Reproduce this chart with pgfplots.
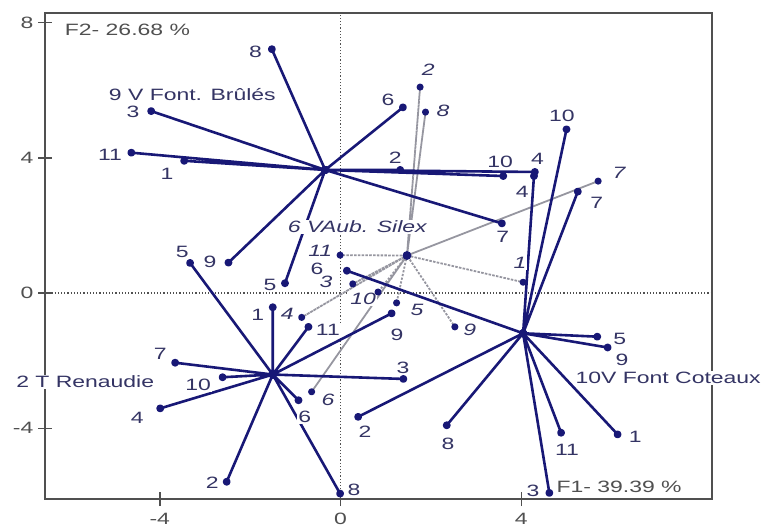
\documentclass[border=0pt]{standalone}
\usepackage{pgfplots}
\pgfplotsset{compat=1.18}
\usepackage{graphicx}
\usepackage{fontspec}
\setmainfont{Liberation Sans}
\definecolor{navy}{RGB}{24,24,118}
\definecolor{labcol}{RGB}{52,52,100}
\definecolor{axcol}{RGB}{80,80,80}
\definecolor{silex}{RGB}{150,150,160}
% labels are drawn wide, as in the original printout
\newcommand{\lb}[1]{\scalebox{1.4}[1]{#1}}
\newcommand{\lbi}[1]{\scalebox{1.4}[1]{\itshape #1}}
\tikzset{
  n/.style={font=\fontsize{8.2}{9}\selectfont, text=labcol, fill=white, inner sep=0.5pt},
}
\pgfplotsset{
  star/.style={navy, line width=1.3pt, line join=round, mark=*, mark size=1.3pt,
    mark options={solid, fill=navy, draw=navy}},
}

\begin{document}
\begin{tikzpicture}
\useasboundingbox (-22.5pt,-13pt) rectangle (362.5pt,249.5pt);
\begin{axis}[
  at={(0pt,0pt)}, anchor=south west,
  scale only axis, width=333.5pt, height=243pt,
  xmin=-6.54, xmax=8.22, ymin=-6.09, ymax=8.28,
  clip=false,
  axis line style={axcol, line width=1pt},
  xtick={-4,0,4}, ytick={-4,0,4,8},
  xticklabels={\lb{-4},\lb{0},\lb{4}},
  yticklabels={\lb{-4},\lb{0},\lb{4},\lb{8}},
  tick pos=left, tick align=center,
  major tick length=7pt,
  tick style={axcol, line width=0.8pt},
  ticklabel style={font=\fontsize{8.2}{9}\selectfont, text=axcol},
  yticklabel style={xshift=1.2pt},
]
% origin lines
\addplot[axcol, densely dotted, line width=0.6pt] coordinates {(0,-6.09) (0,8.28)};
\addplot[axcol, densely dotted, line width=0.6pt] coordinates {(-6.54,0) (8.22,0)};

% 6 VAub. Silex
\addplot[silex, densely dotted, line width=0.9pt, line join=round, mark=*, mark size=1.3pt,
  mark options={solid, fill=navy, draw=navy}] coordinates {
 (1.47,1.11) (1.76,6.09)
 (1.47,1.11) (1.88,5.35)
 (1.47,1.11) (5.70,3.31)
 (1.47,1.11) (4.04,0.32)
 (1.47,1.11) (2.53,-1.00)
 (1.47,1.11) (1.24,-0.29)
 (1.47,1.11) (0.83,0.03)
 (1.47,1.11) (0.27,0.27)
 (1.47,1.11) (-0.64,-2.92)
 (1.47,1.11) (-0.01,1.12)
 (1.47,1.11) (-0.86,-0.72)
 (1.47,1.11)};
\addplot[only marks, mark=*, mark size=2pt, navy] coordinates {(1.47,1.11)};

% 9 V Font. Brûlés
\addplot[star] coordinates {
 (-0.34,3.64) (-1.52,7.21)
 (-0.34,3.64) (-4.19,5.38)
 (-0.34,3.64) (-4.63,4.15)
 (-0.34,3.64) (-3.46,3.91)
 (-0.34,3.64) (-2.48,0.90)
 (-0.34,3.64) (-1.23,0.29)
 (-0.34,3.64) (1.38,5.49)
 (-0.34,3.64) (1.32,3.64)
 (-0.34,3.64) (3.60,3.46)
 (-0.34,3.64) (4.30,3.58)
 (-0.34,3.64) (3.57,2.06)
 (-0.34,3.64)};

% 2 T Renaudie
\addplot[star] coordinates {
 (-1.50,-2.41) (-3.33,0.89)
 (-1.50,-2.41) (-1.50,-0.42)
 (-1.50,-2.41) (-0.71,-1.00)
 (-1.50,-2.41) (1.13,-0.60)
 (-1.50,-2.41) (1.39,-2.54)
 (-1.50,-2.41) (-3.66,-2.06)
 (-1.50,-2.41) (-2.61,-2.49)
 (-1.50,-2.41) (-3.99,-3.41)
 (-1.50,-2.41) (-2.52,-5.58)
 (-1.50,-2.41) (-0.01,-5.93)
 (-1.50,-2.41) (-0.93,-3.17)
 (-1.50,-2.41)};

% 10V Font Coteaux
\addplot[star] coordinates {
 (4.04,-1.19) (5.00,4.84)
 (4.04,-1.19) (5.25,3.00)
 (4.04,-1.19) (4.28,3.46)
 (4.04,-1.19) (5.68,-1.29)
 (4.04,-1.19) (5.91,-1.61)
 (4.04,-1.19) (6.13,-4.18)
 (4.04,-1.19) (4.88,-4.13)
 (4.04,-1.19) (4.62,-5.91)
 (4.04,-1.19) (2.35,-3.91)
 (4.04,-1.19) (0.39,-3.66)
 (4.04,-1.19) (0.14,0.66)
 (4.04,-1.19)};

% frame around the plotting area
\draw[axcol, line width=1pt] (rel axis cs:0,0) rectangle (rel axis cs:1,1);

% point labels, 9 V Font. Brûlés
\node[n] at (-1.88,7.13) {\lb{8}};
\node[n] at (-4.59,5.36) {\lb{3}};
\node[n] at (-5.10,4.08) {\lb{11}};
\node[n] at (-3.84,3.52) {\lb{1}};
\node[n] at (-2.89,0.92) {\lb{9}};
\node[n] at (-1.56,0.24) {\lb{5}};
\node[n] at (1.05,5.71) {\lb{6}};
\node[n] at (1.21,3.99) {\lb{2}};
\node[n] at (3.53,3.88) {\lb{10}};
\node[n] at (4.36,3.96) {\lb{4}};
\node[n] at (3.59,1.66) {\lb{7}};
% point labels, 2 T Renaudie
\node[n] at (-3.50,1.21) {\lb{5}};
\node[n] at (-1.83,-0.65) {\lb{1}};
\node[n] at (-0.28,-1.09) {\lb{11}};
\node[n] at (1.25,-1.24) {\lb{9}};
\node[n] at (1.38,-2.22) {\lb{3}};
\node[n] at (-3.99,-1.80) {\lb{7}};
\node[n] at (-3.15,-2.72) {\lb{10}};
\node[n] at (-4.50,-3.70) {\lb{4}};
\node[n] at (-2.84,-5.62) {\lb{2}};
\node[n] at (0.30,-5.83) {\lb{8}};
\node[n] at (-0.79,-3.67) {\lb{6}};
% point labels, 10V Font Coteaux
\node[n] at (4.90,5.24) {\lb{10}};
\node[n] at (5.67,2.66) {\lb{7}};
\node[n] at (4.02,2.99) {\lb{4}};
\node[n] at (6.18,-1.36) {\lb{5}};
\node[n] at (6.23,-1.98) {\lb{9}};
\node[n] at (6.52,-4.26) {\lb{1}};
\node[n] at (5.01,-4.64) {\lb{11}};
\node[n] at (4.26,-5.86) {\lb{3}};
\node[n] at (2.38,-4.47) {\lb{8}};
\node[n] at (0.54,-4.11) {\lb{2}};
\node[n] at (-0.52,0.71) {\lb{6}};
% point labels, 6 VAub. Silex
\node[n] at (1.94,6.60) {\lbi{2}};
\node[n] at (2.27,5.38) {\lbi{8}};
\node[n] at (6.16,3.55) {\lbi{7}};
\node[n] at (3.97,0.89) {\lbi{1}};
\node[n] at (2.86,-1.09) {\lbi{9}};
\node[n] at (1.69,-0.50) {\lbi{5}};
\node[n] at (0.50,-0.18) {\lbi{10}};
\node[n] at (-0.32,0.33) {\lbi{3}};
\node[n] at (-0.28,-3.17) {\lbi{6}};
\node[n] at (-0.45,1.24) {\lbi{11}};
\node[n] at (-1.18,-0.62) {\lbi{4}};

% group names and axis captions
\node[n] at (-3.28,5.86) {\lb{9 V Font. Brûlés}};
\node[n] at (-5.65,-2.63) {\lb{2 T Renaudie}};
\node[n] at (7.25,-2.51) {\lb{10V Font Coteaux}};
\node[n] at (0.37,1.95) {\lbi{6 VAub. Silex}};
\node[n, text=axcol, anchor=west] at (-6.13,7.78) {\lb{F2- 26.68 \%}};
\node[n, text=axcol, anchor=west] at (4.75,-5.74) {\lb{F1- 39.39 \%}};
\end{axis}
\end{tikzpicture}
\end{document}
